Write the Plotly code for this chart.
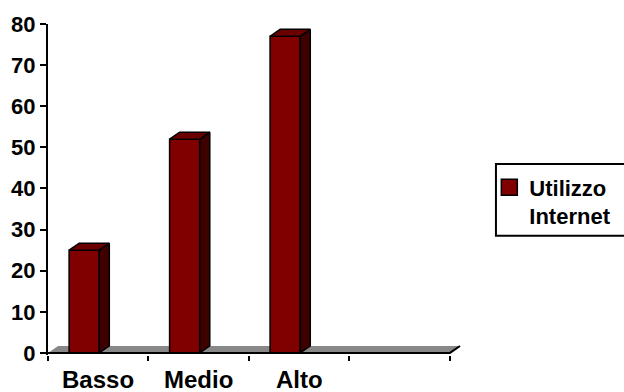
import plotly.graph_objects as go

# Data
categories = ["Basso", "Medio", "Alto"]
values = [25, 52, 77]
series_name = "Utilizzo<br>Internet"
y_ticks = [0, 10, 20, 30, 40, 50, 60, 70, 80]
n_slots = 4  # the category axis has one extra, empty slot

# Styling for the pseudo-3D columns
FRONT = "#800000"
SIDE = "#3f0000"
TOP = "#6a0000"
FLOOR = "#888888"
BAR_W = 0.3
BAR_OFF = -0.29
DX = 0.1   # depth offset along x (data units)
DY = 1.7   # depth offset along y (data units)
FONT = "Liberation Sans, Arial, sans-serif"

x_pos = list(range(len(categories)))

fig = go.Figure()

# Floor of the 3D plot area
x_lo, x_hi = -0.5, n_slots - 0.5
fig.add_shape(
    type="path",
    path=f"M {x_lo},0 L {x_hi},0 L {x_hi + DX},{DY} L {x_lo + DX},{DY} Z",
    xref="x", yref="y", layer="below",
    fillcolor=FLOOR, line=dict(width=0),
)

# Legend frame (runs off the right edge of the page)
fig.add_shape(
    type="rect", xref="paper", yref="paper",
    x0=1.082, x1=1.45, y0=0.36, y1=0.577,
    line=dict(color="black", width=2), fillcolor="white", layer="below",
)

# Front faces of the columns
fig.add_trace(go.Bar(
    x=x_pos, y=values, width=BAR_W, offset=BAR_OFF,
    marker=dict(color=FRONT, line=dict(color="black", width=1.5)),
    showlegend=False, hoverinfo="skip",
))

# Side and top faces
for xi, v in zip(x_pos, values):
    x0 = xi + BAR_OFF
    x1 = x0 + BAR_W
    fig.add_trace(go.Scatter(
        x=[x1, x1 + DX, x1 + DX, x1, x1], y=[0, DY, v + DY, v, 0],
        mode="lines", fill="toself", fillcolor=SIDE,
        line=dict(color="black", width=1.5),
        showlegend=False, hoverinfo="skip",
    ))
    fig.add_trace(go.Scatter(
        x=[x0, x1, x1 + DX, x0 + DX, x0], y=[v, v, v + DY, v + DY, v],
        mode="lines", fill="toself", fillcolor=TOP,
        line=dict(color="black", width=1.5),
        showlegend=False, hoverinfo="skip",
    ))

# Category axis line and right edge of the floor
fig.add_trace(go.Scatter(
    x=[x_lo, x_hi, x_hi + DX], y=[0, 0, DY], mode="lines",
    line=dict(color="black", width=2), showlegend=False, hoverinfo="skip",
))

# Legend entry
fig.add_trace(go.Scatter(
    x=[None], y=[None], mode="markers", name=series_name,
    marker=dict(symbol="square", size=16, color=FRONT,
                line=dict(color="black", width=1.5)),
))

# Category labels
for xi, label in zip(x_pos, categories):
    fig.add_annotation(
        x=xi, xref="x", y=-0.0755, yref="paper",
        text=label, showarrow=False, xanchor="center", yanchor="middle",
        font=dict(family=FONT, size=24, color="black", weight="bold"),
    )

fig.update_layout(
    width=624, height=392,
    margin=dict(l=48, r=162, t=24, b=37, autoexpand=False),
    paper_bgcolor="white", plot_bgcolor="white",
    font=dict(family=FONT, size=22, color="black", weight="bold"),
    showlegend=True,
    legend=dict(
        x=1.066, y=0.57, xanchor="left", yanchor="top",
        borderwidth=0, bgcolor="rgba(0,0,0,0)", valign="top",
        font=dict(family=FONT, size=22, color="black", weight="bold"),
    ),
    xaxis=dict(
        range=[x_lo, 3.62], showline=False, showgrid=False, zeroline=False,
        tickvals=[x_lo + i for i in range(n_slots + 1)],
        ticktext=[""] * (n_slots + 1),
        ticks="outside", ticklen=5, tickwidth=2, tickcolor="black",
        fixedrange=True,
    ),
    yaxis=dict(
        range=[-0.5, 80], showline=True, linewidth=2, linecolor="black",
        showgrid=False, zeroline=False,
        tickvals=y_ticks, ticks="outside", ticklen=6, tickwidth=2,
        tickcolor="black",
        tickfont=dict(family=FONT, size=22, color="black", weight="bold"),
        fixedrange=True,
    ),
)

fig.write_html("out.html")
